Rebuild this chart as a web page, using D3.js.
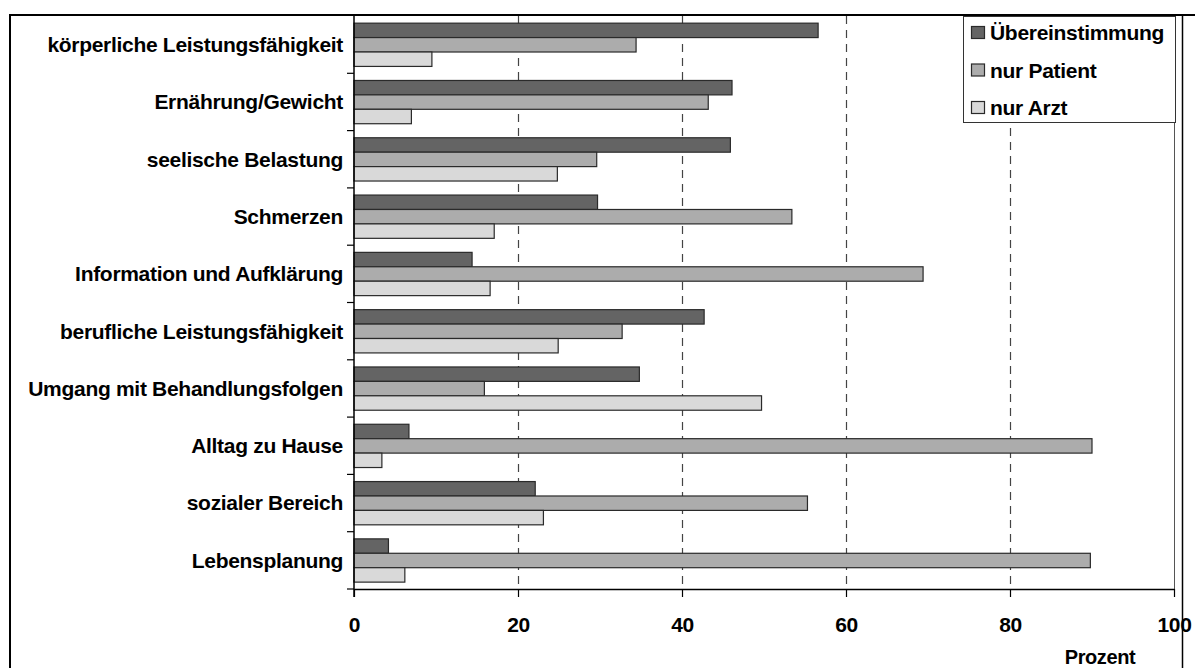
<!DOCTYPE html>
<html><head><meta charset="utf-8">
<script src="https://cdn.jsdelivr.net/npm/d3@7"></script>
<style>body{margin:0;background:#fff}svg{display:block}text{font-family:"Liberation Sans",Arial,sans-serif;font-weight:bold;fill:#000}</style>
</head><body><svg id="c" width="1195" height="668"></svg>
<script>
const categories = ["körperliche Leistungsfähigkeit","Ernährung/Gewicht","seelische Belastung","Schmerzen","Information und Aufklärung","berufliche Leistungsfähigkeit","Umgang mit Behandlungsfolgen","Alltag zu Hause","sozialer Bereich","Lebensplanung"];
const seriesNames = ["Übereinstimmung","nur Patient","nur Arzt"];
const uebereinstimmung = [56.6,46.1,45.9,29.7,14.4,42.7,34.8,6.7,22.1,4.2];
const nurPatient = [34.4,43.2,29.6,53.4,69.4,32.7,15.9,90.0,55.3,89.8];
const nurArzt = [9.5,7.0,24.8,17.1,16.6,24.9,49.7,3.4,23.1,6.2];
const xTicks = [0,20,40,60,80,100];
const axisTitle = "Prozent";
const colors = ["#646464","#acacac","#d9d9d9"];

const seriesValues = [uebereinstimmung, nurPatient, nurArzt];
const svg = d3.select("#c");
svg.append("rect").attr("width",1195).attr("height",668).attr("fill","#fff");

const L = 354, R = 1174, T = 16, B = 589;
const FS = 21, LS = "-0.3px";
const x = d3.scaleLinear().domain([0,100]).range([L,R]);
const y = d3.scaleBand().domain(categories).range([T,B]);
const bw = y.bandwidth();
const ys = d3.scaleBand().domain(seriesNames).range([bw*0.125, bw*0.88]);

// gridlines
svg.append("g").selectAll("line").data(xTicks.filter(v=>v>0&&v<100)).join("line")
  .attr("x1",d=>Math.round(x(d))+0.5).attr("x2",d=>Math.round(x(d))+0.5)
  .attr("y1",T).attr("y2",B)
  .attr("stroke","#444").attr("stroke-width",1.2).attr("stroke-dasharray","8,6");
// right plot border
svg.append("line").attr("x1",R+0.5).attr("x2",R+0.5).attr("y1",T).attr("y2",B).attr("stroke","#555").attr("stroke-width",1);

// bars
const rows = [];
categories.forEach((c,i)=>seriesNames.forEach((s,j)=>rows.push({c,s,j,v:seriesValues[j][i]})));
svg.append("g").selectAll("rect").data(rows).join("rect")
  .attr("x",x(0)).attr("y",d=>y(d.c)+ys(d.s))
  .attr("width",d=>x(d.v)-x(0)).attr("height",ys.bandwidth())
  .attr("fill",d=>colors[d.j]).attr("stroke","#2a2a2a").attr("stroke-width",1.2);

// y axis line and ticks at band boundaries
svg.append("line").attr("x1",L).attr("x2",L).attr("y1",T).attr("y2",B+8).attr("stroke","#000").attr("stroke-width",1.5);
const bounds = categories.map(c=>y(c)).concat([B]);
svg.append("g").selectAll("line").data(bounds.slice(1)).join("line")
  .attr("x1",L-7).attr("x2",L).attr("y1",d=>d).attr("y2",d=>d).attr("stroke","#000").attr("stroke-width",1.2);

// category labels
svg.append("g").selectAll("text").data(categories).join("text")
  .attr("x",343).attr("y",d=>y(d)+bw/2).attr("dy","0.35em").attr("text-anchor","end")
  .attr("font-size",FS).attr("letter-spacing",LS).text(d=>d);

// x axis
const xa = svg.append("g").attr("transform",`translate(0,${B})`)
  .call(d3.axisBottom(x).tickValues(xTicks).tickSize(8).tickPadding(20).tickSizeOuter(0));
xa.select(".domain").attr("stroke","#000").attr("stroke-width",1.5);
xa.selectAll(".tick line").attr("stroke","#000").attr("stroke-width",1.2);
xa.selectAll(".tick text").attr("font-size",FS).attr("font-family","Liberation Sans, Arial, sans-serif").attr("font-weight","bold").attr("fill","#000").attr("letter-spacing",LS);

svg.append("text").attr("x",1100).attr("y",657).attr("dy","0.35em").attr("text-anchor","middle")
  .attr("font-size",20).attr("letter-spacing","-0.4px").text(axisTitle);

// legend
const lg = svg.append("g");
lg.append("rect").attr("x",963.5).attr("y",16.5).attr("width",212).attr("height",106)
  .attr("fill","#fff").attr("stroke","#333").attr("stroke-width",1);
seriesNames.forEach((s,j)=>{
  const cy = 33 + j*37.5;
  lg.append("rect").attr("x",971.5).attr("y",cy-6.5).attr("width",13).attr("height",12)
    .attr("fill",colors[j]).attr("stroke","#2a2a2a").attr("stroke-width",1.2);
  lg.append("text").attr("x",990).attr("y",cy).attr("dy","0.35em").attr("font-size",FS)
    .attr("letter-spacing",LS).text(s);
});

// outer frame
svg.append("line").attr("x1",10).attr("x2",1195).attr("y1",15).attr("y2",15).attr("stroke","#000").attr("stroke-width",2);
svg.append("line").attr("x1",10).attr("x2",10).attr("y1",14).attr("y2",668).attr("stroke","#000").attr("stroke-width",2);
svg.append("line").attr("x1",1182.5).attr("x2",1182.5).attr("y1",14).attr("y2",668).attr("stroke","#000").attr("stroke-width",1.5);
</script></body></html>
